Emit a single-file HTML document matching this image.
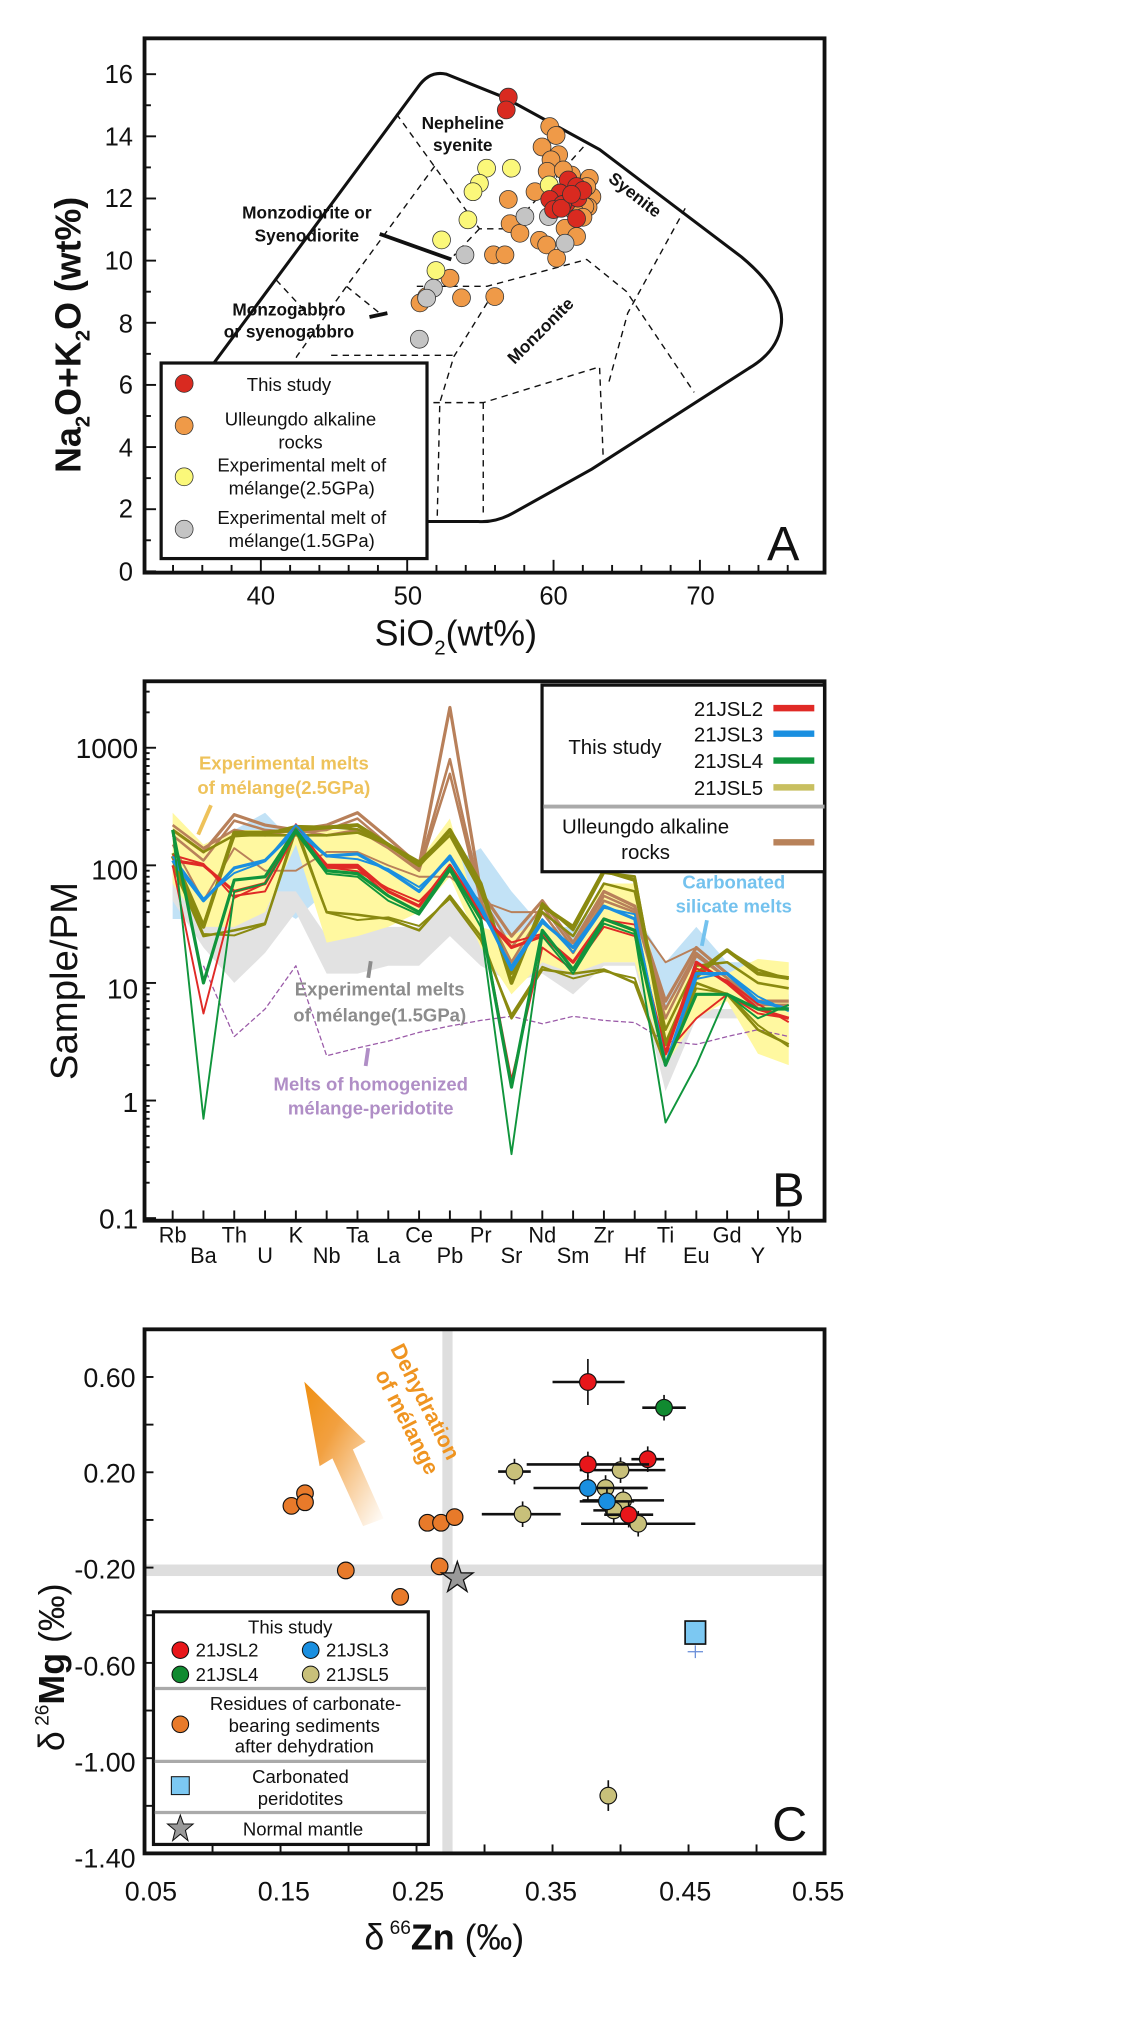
<!DOCTYPE html>
<html><head><meta charset="utf-8"><style>
html,body{margin:0;padding:0;background:#fff}
svg{display:block}
text{font-family:"Liberation Sans",Arial,sans-serif}
</style></head><body>
<svg id="s" width="1125" height="2017" viewBox="0 0 880 1578" xmlns="http://www.w3.org/2000/svg">
<defs>
<linearGradient id="ag" x1="0" y1="0" x2="1" y2="1">
<stop offset="0" stop-color="#ef8f10"/><stop offset="0.35" stop-color="#f2a040"/><stop offset="1" stop-color="#fff" stop-opacity="0.9"/>
</linearGradient>
</defs>
<!-- ===== Panel A ===== -->
<g id="A">
<path d="M168,283 L327,68 Q336,55 349,58 L394,76 L469,117 L580,201 Q615,230 611,255 Q608,275 586,288 L463,367 L402,401 Q388,409 374,408 L290,408 L215,408 L140,330 Z" fill="none" stroke="#111" stroke-width="2.4"/>
<g fill="none" stroke="#111" stroke-width="1.1" stroke-dasharray="5,4">
<path d="M310,89 L375,179 L399,179 L459,112"/>
<path d="M340,130 L271,224 L232,279 L215,340"/>
<path d="M375,179 L355,200"/>
<path d="M216,219 L240,245"/>
<path d="M271,224 L297,245"/>
<path d="M326,224 L381,224 L459,203 L490,228 L543,307"/>
<path d="M386,229 L355,279 L344,315 L342,405"/>
<path d="M259,278 L355,278"/>
<path d="M330,315 L378,315 L469,287 L472,362"/>
<path d="M378,315 L378,405"/>
<path d="M536,163 L491,245 L476,300"/>
</g>
<path d="M297,183 L353,203" stroke="#111" stroke-width="3"/>
<path d="M289,248 L303,245" stroke="#111" stroke-width="3"/>
<g font-weight="bold" font-size="13.5" fill="#111" text-anchor="middle">
<text x="362" y="101">Nepheline</text><text x="362" y="118">syenite</text>
<text x="240" y="171">Monzodiorite or</text><text x="240" y="189">Syenodiorite</text>
<text x="226" y="247">Monzogabbro</text><text x="226" y="264">or syenogabbro</text>
<text transform="translate(494,156) rotate(38)">Syenite</text>
<text transform="translate(426,262) rotate(-45)">Monzonite</text>
</g>
<g id="Apts" stroke="#333" stroke-width="0.6"></g>
<rect x="113" y="30" width="532" height="418" fill="none" stroke="#111" stroke-width="3"/>
<g id="Aticks" stroke="#111" stroke-width="1.5"></g>
<g font-size="20" fill="#111" text-anchor="end">
<text x="104" y="454">0</text><text x="104" y="405">2</text><text x="104" y="357">4</text><text x="104" y="308">6</text><text x="104" y="260">8</text><text x="104" y="211">10</text><text x="104" y="162">12</text><text x="104" y="114">14</text><text x="104" y="65">16</text>
</g>
<g font-size="20" fill="#111" text-anchor="middle">
<text x="204" y="473">40</text><text x="319" y="473">50</text><text x="433" y="473">60</text><text x="548" y="473">70</text>
</g>
<text x="293" y="505" font-size="28" fill="#111">SiO<tspan font-size="16" dy="7">2</tspan><tspan dy="-7">(wt%)</tspan></text>
<text transform="translate(63,370) rotate(-90)" font-size="28" font-weight="bold" fill="#111">Na<tspan font-size="16" dy="7">2</tspan><tspan dy="-7">O+K</tspan><tspan font-size="16" dy="7">2</tspan><tspan dy="-7">O (wt%)</tspan></text>
<text x="600" y="438" font-size="38" fill="#111">A</text>
<rect x="126" y="284" width="208" height="153" fill="#fff" stroke="#111" stroke-width="2.5"/>
<circle cx="144" cy="300" r="7" fill="#d92a20" stroke="#333" stroke-width="0.6"/>
<circle cx="144" cy="333" r="7" fill="#ef9a48" stroke="#333" stroke-width="0.6"/>
<circle cx="144" cy="373" r="7" fill="#fbf87a" stroke="#333" stroke-width="0.6"/>
<circle cx="144" cy="414" r="7" fill="#c4c4c4" stroke="#333" stroke-width="0.6"/>
<g font-size="14.5" fill="#111" text-anchor="middle">
<text x="226" y="306">This study</text>
<text x="235" y="333">Ulleungdo alkaline</text><text x="235" y="351">rocks</text>
<text x="236" y="369">Experimental melt of</text><text x="236" y="387">mélange(2.5GPa)</text>
<text x="236" y="410">Experimental melt of</text><text x="236" y="428">mélange(1.5GPa)</text>
</g>
</g>

<!-- ===== Panel B ===== -->
<g id="B">
<g id="Bfields"></g>
<g id="Blines" fill="none"></g>
<rect x="113" y="533" width="532" height="422" fill="none" stroke="#111" stroke-width="3"/>
<g id="Bticks" stroke="#111" stroke-width="1.5"></g>
<g font-size="22" fill="#111" text-anchor="end">
<text x="108" y="593">1000</text><text x="108" y="688">100</text><text x="108" y="781">10</text><text x="108" y="870">1</text><text x="108" y="961">0.1</text>
</g>
<g id="Blabels" font-size="17" fill="#111" text-anchor="middle"></g>
<text transform="translate(60,845) rotate(-90)" font-size="30" fill="#111">Sample/PM</text>
<text x="604" y="944" font-size="38" fill="#111">B</text>
<g font-size="14.5" font-weight="bold" text-anchor="middle">
<text x="222" y="602" fill="#eec25a">Experimental melts</text>
<text x="222" y="621" fill="#eec25a">of mélange(2.5GPa)</text>
<text x="574" y="695" fill="#74c2ee">Carbonated</text>
<text x="574" y="714" fill="#74c2ee">silicate melts</text>
<text x="297" y="779" fill="#8c8c8c">Experimental melts</text>
<text x="297" y="799" fill="#8c8c8c">of mélange(1.5GPa)</text>
<text x="290" y="853" fill="#b08ec6">Melts of homogenized</text>
<text x="290" y="872" fill="#b08ec6">mélange-peridotite</text>
</g>
<path d="M165,630 L155,653" stroke="#eec25a" stroke-width="3"/>
<path d="M290,752 L288,765" stroke="#8c8c8c" stroke-width="3"/>
<path d="M288,820 L286,834" stroke="#b08ec6" stroke-width="3"/>
<path d="M553,720 L549,740" stroke="#74c2ee" stroke-width="3"/>
<rect x="424" y="536" width="221" height="146" fill="#fff" stroke="#111" stroke-width="2.5"/>
<line x1="425" y1="631" x2="645" y2="631" stroke="#aaa" stroke-width="3"/>
<g font-size="16" fill="#111">
<text x="597" y="560" text-anchor="end">21JSL2</text>
<text x="597" y="580" text-anchor="end">21JSL3</text>
<text x="597" y="601" text-anchor="end">21JSL4</text>
<text x="597" y="622" text-anchor="end">21JSL5</text>
<text x="481" y="590" text-anchor="middle">This study</text>
<text x="505" y="652" text-anchor="middle">Ulleungdo alkaline</text>
<text x="505" y="672" text-anchor="middle">rocks</text>
</g>
<g stroke-width="5">
<line x1="605" y1="554" x2="637" y2="554" stroke="#e02a26"/>
<line x1="605" y1="574" x2="637" y2="574" stroke="#1a8fe0"/>
<line x1="605" y1="595" x2="637" y2="595" stroke="#10953c"/>
<line x1="605" y1="616" x2="637" y2="616" stroke="#c8bf60"/>
<line x1="605" y1="659" x2="637" y2="659" stroke="#b8825a"/>
</g>
</g>

<!-- ===== Panel C ===== -->
<g id="C">
<rect x="346" y="1040" width="8" height="410" fill="#dedede"/>
<rect x="113" y="1224" width="532" height="9" fill="#dedede"/>
<polygon points="238,1081 286,1128 276,1134 300,1188 284,1194 260,1141 250,1147" fill="url(#ag)"/>
<text transform="translate(305,1055) rotate(63)" font-size="17" font-weight="bold" fill="#ef9420">Dehydration</text>
<text transform="translate(293,1075) rotate(63)" font-size="17" font-weight="bold" fill="#ef9420">of mélange</text>
<g id="Cpts"></g>
<rect x="113" y="1040" width="532" height="410" fill="none" stroke="#111" stroke-width="3"/>
<g id="Cticks" stroke="#111" stroke-width="1.5"></g>
<g font-size="21" fill="#111" text-anchor="end">
<text x="106" y="1085">0.60</text><text x="106" y="1160">0.20</text><text x="106" y="1235">-0.20</text><text x="106" y="1311">-0.60</text><text x="106" y="1386">-1.00</text><text x="106" y="1461">-1.40</text>
</g>
<g font-size="21" fill="#111" text-anchor="middle">
<text x="118" y="1487">0.05</text><text x="222" y="1487">0.15</text><text x="327" y="1487">0.25</text><text x="431" y="1487">0.35</text><text x="536" y="1487">0.45</text><text x="640" y="1487">0.55</text>
</g>
<text x="285" y="1525" font-size="28" fill="#111">δ<tspan font-size="15" dy="-12"> 66</tspan><tspan dy="12" font-weight="bold">Zn</tspan> (‰)</text>
<text transform="translate(50,1370) rotate(-90)" font-size="28" fill="#111">δ<tspan font-size="15" dy="-12"> 26</tspan><tspan dy="12" font-weight="bold">Mg</tspan> (‰)</text>
<text x="604" y="1440" font-size="38" fill="#111">C</text>
<rect x="120" y="1261" width="215" height="182" fill="#fff" stroke="#111" stroke-width="2.5"/>
<line x1="121" y1="1321" x2="334" y2="1321" stroke="#aaa" stroke-width="2.5"/>
<line x1="121" y1="1378" x2="334" y2="1378" stroke="#aaa" stroke-width="2.5"/>
<line x1="121" y1="1418" x2="334" y2="1418" stroke="#aaa" stroke-width="2.5"/>
<g stroke="#111" stroke-width="0.8">
<circle cx="141" cy="1291" r="6.5" fill="#e8161a"/>
<circle cx="243" cy="1291" r="6.5" fill="#1a8fe0"/>
<circle cx="141" cy="1310" r="6.5" fill="#108a30"/>
<circle cx="243" cy="1310" r="6.5" fill="#c8c07a"/>
<circle cx="141" cy="1349" r="6.5" fill="#e87a2a"/>
<rect x="134" y="1390" width="14" height="14" fill="#7cc8f2"/>
<polygon points="141,1420 143.5,1427 151,1427 145,1432 147,1440 141,1435 135,1440 137,1432 131,1427 138.5,1427" fill="#999"/>
</g>
<g font-size="14.5" fill="#111">
<text x="227" y="1278" text-anchor="middle">This study</text>
<text x="153" y="1296">21JSL2</text><text x="255" y="1296">21JSL3</text>
<text x="153" y="1315">21JSL4</text><text x="255" y="1315">21JSL5</text>
<text x="239" y="1338" text-anchor="middle">Residues of carbonate-</text>
<text x="238" y="1355" text-anchor="middle">bearing sediments</text>
<text x="238" y="1371" text-anchor="middle">after dehydration</text>
<text x="235" y="1395" text-anchor="middle">Carbonated</text>
<text x="235" y="1412" text-anchor="middle">peridotites</text>
<text x="237" y="1436" text-anchor="middle">Normal mantle</text>
</g>
</g>
</svg>
<script>
var NS="http://www.w3.org/2000/svg";
function el(p,t,a){var e=document.createElementNS(NS,t);for(var k in a)e.setAttribute(k,a[k]);p.appendChild(e);return e;}
function g(id){return document.getElementById(id);}
var Ap=g("Apts");
var orange=[[430,99],[435,106],[424,115],[437,121],[431,125],[428,134],[447,137],[461,139.5],[418.5,150],[463,154],[460,162],[397.6,156],[399,175],[406.7,182.5],[422,188],[427.6,191.6],[442,178.6],[451,185],[435.4,202],[386,199.4],[395,199.4],[352,217.7],[361,233],[387,232],[328.5,237],[333.7,232],[457.5,161.6],[459,146],[440.6,133],[449,165],[456,170],[445,150]];
var yellow=[[380.6,131.6],[400,131.6],[375,143.4],[370,150],[366,172],[345.4,187.7],[341,211.7],[429.6,144.7]];
var gray=[[410.6,169.4],[429,169.4],[442,190.3],[363.7,199.4],[339,225.5],[333.7,233.3],[328,265.4]];
var red=[[397.6,76],[396,86],[444.5,140.8],[451,146],[438,151],[430,156],[443,159],[452,155],[440,160],[433,164],[451,171],[456,149],[439,163],[447,152]];
function dots(arr,c){arr.forEach(function(p){el(Ap,"circle",{cx:p[0],cy:p[1],r:7,fill:c});});}
dots(orange,"#ef9a48");dots(yellow,"#fbf87a");dots(gray,"#c4c4c4");dots(red,"#d92a20");
var At=g("Aticks");
for(var v=0;v<=16;v++){var y=447-v*24.31;el(At,"line",{x1:113,y1:y,x2:113+(v%2?5:9),y2:y});}
for(var s=34;s<=76;s+=2){var x=204+(s-40)*11.45;el(At,"line",{x1:x,y1:448,x2:x,y2:448-(s%10==0?10:6)});}
var XB=function(i){return 135+i*24.1;},YB=function(v){return 953-92*(Math.log10(v)+1);};
var names=["Rb","Ba","Th","U","K","Nb","Ta","La","Ce","Pb","Pr","Sr","Nd","Sm","Zr","Hf","Ti","Eu","Gd","Y","Yb"];
var Bl=g("Blabels");
names.forEach(function(n,i){var t=el(Bl,"text",{x:XB(i),y:i%2?988:972});t.textContent=n;});
var Bt=g("Bticks");
names.forEach(function(n,i){el(Bt,"line",{x1:XB(i),y1:955,x2:XB(i),y2:947});});
for(var d=-1;d<=3;d++)for(var m=1;m<10;m++){var vv=m*Math.pow(10,d);var yy=YB(vv);if(yy<535)continue;el(Bt,"line",{x1:113,y1:yy,x2:113+(m==1?9:4),y2:yy});}
function poly(up,lo,c){var pts=[];up.forEach(function(v,i){pts.push(XB(i)+","+YB(v));});for(var i=lo.length-1;i>=0;i--)pts.push(XB(i)+","+YB(lo[i]));el(g("Bfields"),"polygon",{points:pts.join(" "),fill:c});}
poly([120,150,200,280,150,130,130,110,100,100,140,60,30,30,50,40,15,30,15,15,8],[35,35,35,50,35,60,80,60,60,80,40,15,25,18,28,25,5,12,8,6,6],"#c2e2f6");
poly([100,60,40,60,60,25,28,30,30,50,25,15,20,15,15,15,5,6,6,6,6],[50,20,10,18,40,12,12,14,14,25,14,10,12,8,14,14,1.2,5,5,5,5],"#e2e2e2");
poly([280,150,200,200,200,200,200,150,110,250,30,25,35,20,70,70,6,15,12,16,15],[70,30,30,40,150,22,25,30,40,80,20,8,15,12,15,15,2,5,7,2.5,2],"#fff8a0");
function line(a,c,w,da){var pts=[];a.forEach(function(v,i){if(v)pts.push(XB(i)+","+YB(v));});var at={points:pts.join(" "),stroke:c,"stroke-width":w,fill:"none","stroke-linejoin":"round"};if(da)at["stroke-dasharray"]=da;el(g("Blines"),"polyline",at);}
function mul(a,f){return a.map(function(v,i){return v*(1+f*Math.sin(i*1.7+f*10));});}
line([0,14,3.5,6,14,2.4,2.8,3.2,3.8,4.3,4.8,5.2,4.5,5.2,4.8,4.6,3.2,3,3.5,4,3.5],"#9a5aa8",1,"4,2");
var br1=[200,130,270,220,200,220,280,170,100,2200,60,25,50,22,60,45,7,20,12,7,7];
var br2=[180,110,240,200,190,200,250,150,95,800,55,20,45,20,55,42,6,18,11,6.5,6.5];
var br3=[150,50,140,90,90,130,130,100,80,80,50,40,40,18,45,35,15,20,12,6,6];
var br4=[220,140,200,180,200,180,200,140,90,600,50,15,40,18,50,40,5,17,11,6,6];
line(br1,"#b8805a",2.5);line(br2,"#b8805a",2);line(br3,"#b8805a",1.5);line(br4,"#b8805a",2);
var ol1=[120,30,190,190,200,210,220,150,100,200,70,10,45,30,90,75,3,12,19,12,11];
var ol2=[100,25,28,32,200,40,38,35,28,55,25,5,13,12,13,10,2,10,8,4,3];
line(ol1,"#8a8a10",3);line(mul(ol1,0.08),"#8a8a10",2);line(ol2,"#8a8a10",2);line(mul(ol2,0.1),"#8a8a10",1.5);
line([200,130,180,180,180,180,190,150,100,180,60,12,40,25,70,60,4,14,15,10,9],"#8a8a10",2);
var r1=[110,100,60,70,200,100,100,60,45,100,40,20,25,15,35,28,2.5,15,10,6,5];
line(r1,"#e02a26",2.5);line([100,5.5,55,60,190,95,95,55,40,90,35,1.5,20,13,30,25,2.5,5,8,5.5,5],"#e02a26",1.5);line(mul(r1,0.12),"#e02a26",1.5);
var b1=[110,50,95,110,200,120,125,90,60,120,45,13,33,20,45,35,2,12,12,7,6];
line(b1,"#1a8fe0",2.5);line(mul(b1,0.1),"#1a8fe0",1.5);
var g1=[200,10,75,80,200,90,85,55,40,95,35,1.3,28,13,35,28,2,8,8,6,6];
line(g1,"#10953c",2.5);line([200,0.7,60,70,190,85,80,50,38,90,30,0.35,25,12,32,26,0.65,2,8,5,6.5],"#10953c",1.5);
var XC=function(z){return 113+(z-0.05)*1064;},YC=function(v){return 1040+(0.8-v)*186.4;};
var Cp=g("Cpts");
function pt(z,v,c,ex,ey){if(ex)el(Cp,"line",{x1:XC(z-ex[0]),y1:YC(v),x2:XC(z+ex[1]),y2:YC(v),stroke:"#111","stroke-width":2});
el(Cp,"line",{x1:XC(z),y1:YC(v)-(ey||10),x2:XC(z),y2:YC(v)+(ey||10),stroke:"#111","stroke-width":1.3});
el(Cp,"circle",{cx:XC(z),cy:YC(v),r:6.5,fill:c,stroke:"#111","stroke-width":0.9});}
var OR="#e87a2a";
[[0.168,0.112],[0.158,0.059],[0.168,0.074],[0.258,-0.012],[0.268,-0.012],[0.278,0.012],[0.198,-0.212],[0.267,-0.195],[0.238,-0.323]].forEach(function(p){el(Cp,"circle",{cx:XC(p[0]),cy:YC(p[1]),r:6.5,fill:OR,stroke:"#111","stroke-width":0.9});});
var OL="#c8c07a";
pt(0.322,0.203,OL,[0.012,0.012]);pt(0.400,0.209,OL,[0.03,0.033]);pt(0.389,0.134,OL,[0.02,0.03]);pt(0.402,0.082,OL,[0.03,0.03]);
pt(0.395,0.04,OL,[0.015,0.015]);pt(0.328,0.024,OL,[0.03,0.028]);pt(0.413,-0.016,OL,[0.042,0.042]);pt(0.391,-1.157,OL,null,12);
pt(0.376,0.134,"#1a8fe0",[0.04,0.044]);pt(0.390,0.078,"#1a8fe0",[0.02,0.02]);
pt(0.376,0.579,"#e8161a",[0.026,0.027],18);pt(0.420,0.255,"#e8161a",[0.012,0.012]);pt(0.376,0.233,"#e8161a",[0.045,0.045]);pt(0.406,0.022,"#e8161a",[0.018,0.018]);
pt(0.432,0.471,"#108a30",[0.016,0.016]);
el(Cp,"line",{x1:XC(0.455)-6,y1:YC(-0.478)+14,x2:XC(0.455)+6,y2:YC(-0.478)+14,stroke:"#6a8ed8","stroke-width":1});
el(Cp,"line",{x1:XC(0.455),y1:YC(-0.478)+9,x2:XC(0.455),y2:YC(-0.478)+19,stroke:"#6a8ed8","stroke-width":1});
el(Cp,"rect",{x:XC(0.455)-8,y:YC(-0.478)-10,width:16,height:18,fill:"#7cc8f2",stroke:"#111","stroke-width":1.3});
var sx=XC(0.280),sy=YC(-0.244),sp=[];for(var k=0;k<10;k++){var a=-Math.PI/2+k*Math.PI/5,rr=k%2?5:13;sp.push((sx+rr*Math.cos(a))+","+(sy+rr*Math.sin(a)));}
el(Cp,"polygon",{points:sp.join(" "),fill:"#999",stroke:"#111","stroke-width":1});
var Ct=g("Cticks");
for(var v=-1.4;v<=0.81;v+=0.2){var y=YC(v);el(Ct,"line",{x1:113,y1:y,x2:120,y2:y});}
for(var z=0.05;z<=0.551;z+=0.05){var x=XC(z);el(Ct,"line",{x1:x,y1:1450,x2:x,y2:1443});}
</script>
</body></html>
